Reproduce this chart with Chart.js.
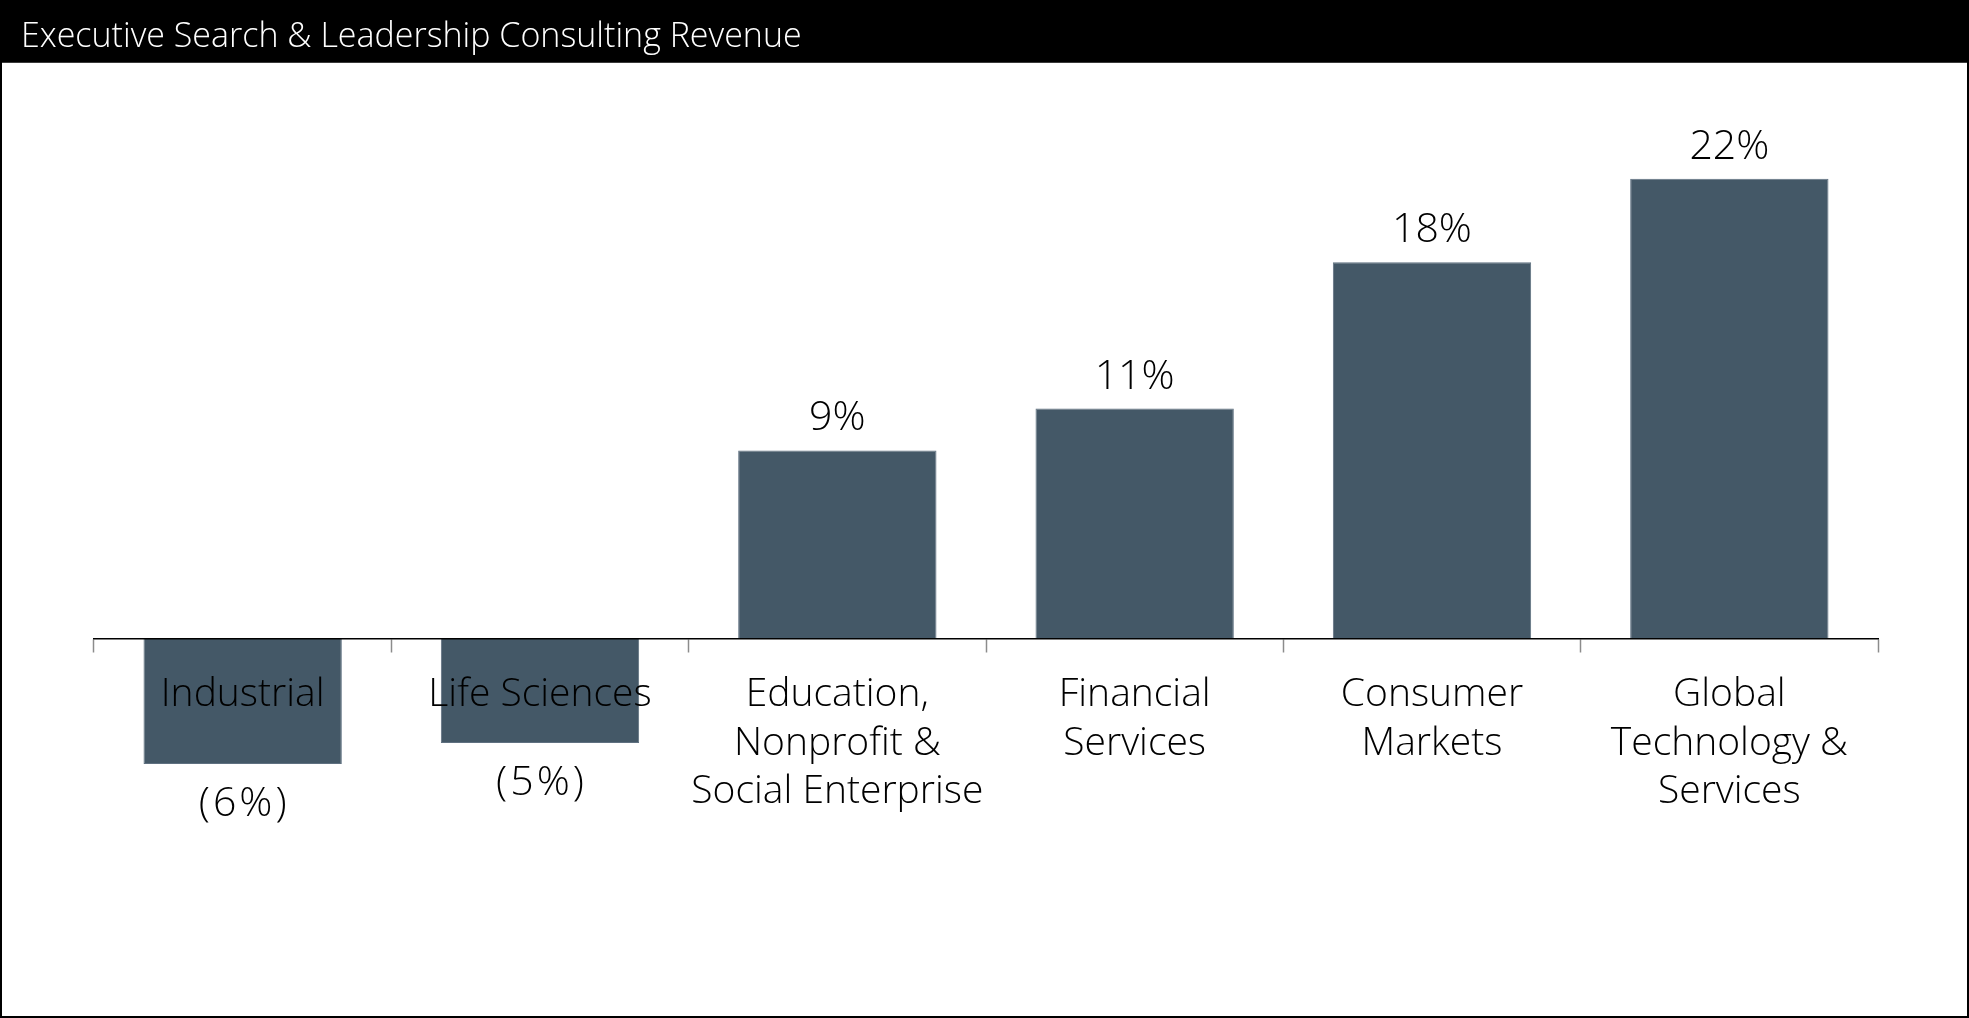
<!DOCTYPE html>
<html>
<head>
<meta charset="utf-8">
<title>Executive Search &amp; Leadership Consulting Revenue</title>
<script src="https://cdn.jsdelivr.net/npm/chart.js@4/dist/chart.umd.min.js"></script>
<style>
  html, body { margin: 0; padding: 0; background: #fff; overflow: hidden; }
  #wrap { width: 1969px; height: 1018px; }
  canvas { display: block; }
</style>
</head>
<body>
<div id="wrap"><canvas id="revenue" width="1969" height="1018"></canvas></div>
<script>
// Chart content
const chartTitle = 'Executive Search & Leadership Consulting Revenue';
const categories = [
  ['Industrial'],
  ['Life Sciences'],
  ['Education,', 'Nonprofit &', 'Social Enterprise'],
  ['Financial', 'Services'],
  ['Consumer', 'Markets'],
  ['Global', 'Technology &', 'Services']
];
const revenueGrowth = [-6, -5, 9, 11, 18, 22];   // percent change
const valueRange = [-15, 25];                    // y-axis extent, percent

const FONT = "'Open Sans', 'Noto Sans', 'DejaVu Sans', sans-serif";
const BAR_COLOR = '#445867';
const BAR_EDGE = '#5f7080';

const formatPct = v => (v < 0 ? `(${-v}%)` : `${v}%`);

// Black header band with title, plus the outer frame
const headerFrame = {
  id: 'headerFrame',
  beforeDraw(chart) {
    const { ctx, width, height } = chart;
    ctx.save();
    ctx.fillStyle = '#ffffff';
    ctx.fillRect(0, 0, width, height);
    ctx.fillStyle = '#000000';
    ctx.fillRect(0, 0, width, 62);
    ctx.fillStyle = '#3a3a3a';
    ctx.fillRect(0, 62, width, 1);
    ctx.fillStyle = '#ffffff';
    ctx.font = `300 34px ${FONT}`;
    ctx.textAlign = 'left';
    ctx.textBaseline = 'alphabetic';
    ctx.fillText(chartTitle, 21, 47);
    ctx.restore();
  },
  afterDraw(chart) {
    const { ctx, width, height } = chart;
    ctx.save();
    ctx.strokeStyle = '#000000';
    ctx.lineWidth = 2;
    ctx.strokeRect(1, 1, width - 2, height - 2);
    ctx.restore();
  }
};

// Percentage labels above positive bars and below negative ones
const valueLabels = {
  id: 'valueLabels',
  afterDatasetsDraw(chart) {
    const { ctx } = chart;
    const meta = chart.getDatasetMeta(0);
    ctx.save();
    ctx.fillStyle = '#000000';
    ctx.font = `300 41px ${FONT}`;
    ctx.textAlign = 'center';
    meta.data.forEach((bar, i) => {
      const v = revenueGrowth[i];
      if (v >= 0) {
        ctx.textBaseline = 'alphabetic';
        ctx.letterSpacing = '0px';
        ctx.fillText(formatPct(v), bar.x, bar.y - 20);
      } else {
        ctx.textBaseline = 'top';
        ctx.letterSpacing = '3px';
        ctx.fillText(formatPct(v), bar.x + 1.5, bar.y + 20);
      }
    });
    ctx.restore();
  }
};

new Chart(document.getElementById('revenue'), {
  type: 'bar',
  data: {
    labels: categories,
    datasets: [{
      data: revenueGrowth,
      backgroundColor: BAR_COLOR,
      borderColor: BAR_EDGE,
      borderWidth: 1,
      barPercentage: 0.667,
      categoryPercentage: 1.0
    }]
  },
  options: {
    responsive: false,
    devicePixelRatio: 1,
    animation: false,
    layout: { padding: { top: 116, bottom: 66, left: 94, right: 91 } },
    plugins: {
      legend: { display: false },
      title: { display: false },
      tooltip: { enabled: false }
    },
    scales: {
      y: {
        display: false,
        min: valueRange[0],
        max: valueRange[1]
      },
      x: {
        position: { y: 0 },
        offset: true,
        grid: {
          display: true,
          offset: true,
          z: 1,
          drawOnChartArea: false,
          drawTicks: true,
          tickLength: 13,
          tickColor: '#8c8c8c',
          tickWidth: 1.5
        },
        border: { display: true, color: '#000000', width: 1.5, z: 1 },
        ticks: {
          z: 1,
          color: '#000000',
          padding: 19.5,
          maxRotation: 0,
          autoSkip: false,
          font: { family: FONT, size: 39, weight: '300', lineHeight: 1.24 }
        }
      }
    }
  },
  plugins: [headerFrame, valueLabels]
});
</script>
</body>
</html>
